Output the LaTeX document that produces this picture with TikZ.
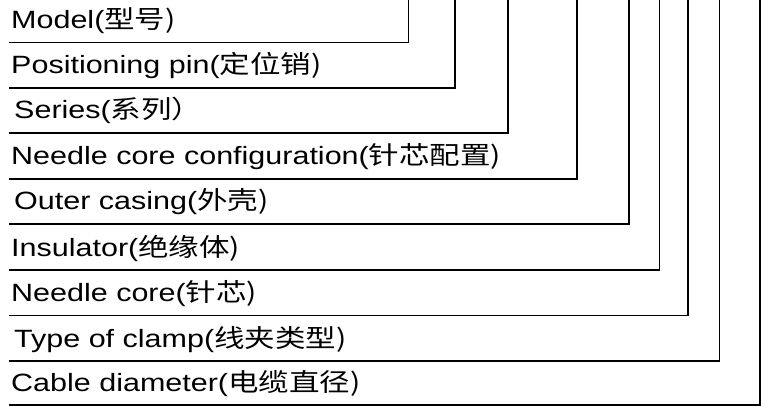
\documentclass[tikz,border=0pt]{standalone}
\usepackage{fontspec}
\setmainfont{Liberation Sans}[FakeStretch=1.22]
\newfontfamily\cjk{Noto Sans CJK SC}[FakeStretch=1.22]
\tikzset{
  lbl/.style={anchor=base west, inner sep=0pt, font=\fontsize{25}{30}\selectfont},
  leader/.style={line width=1.6pt, line cap=butt, line join=miter}
}
\begin{document}
\begin{tikzpicture}[x=1pt,y=-1pt]
\useasboundingbox (0,0) rectangle (784,406);
% label texts
\node[lbl] (t1) at (11,29)  {Model(\cjk{型号})};
\node[lbl] (t2) at (11,74)  {Positioning pin(\cjk{定位销})};
\node[lbl] (t3) at (14,119) {Series(\cjk{系列）}};
\node[lbl] (t4) at (11,165) {Needle core configuration(\cjk{针芯配置})};
\node[lbl] (t5) at (14,210) {Outer casing(\cjk{外壳})};
\node[lbl] (t6) at (11,256) {Insulator(\cjk{绝缘体})};
\node[lbl] (t7) at (11,301) {Needle core(\cjk{针芯})};
\node[lbl] (t8) at (14,347) {Type of clamp(\cjk{线夹类型})};
\node[lbl] (t9) at (11,391) {Cable diameter(\cjk{电缆直径})};
% leader lines
\foreach \i/\x/\y in {1/408.3/42.7, 2/455/88.3, 3/507.7/133.3, 4/577/179,
                      5/629/224, 6/659.3/270, 7/687.7/315.3, 8/719.3/360.7, 9/759.7/404.7}{
  \coordinate (s\i) at (9,\y);
  \coordinate (c\i) at (\x,\y);
  \coordinate (e\i) at (\x,-3);
  \draw[leader] (s\i) -- (c\i) -- (e\i);
}
\end{tikzpicture}
\end{document}
